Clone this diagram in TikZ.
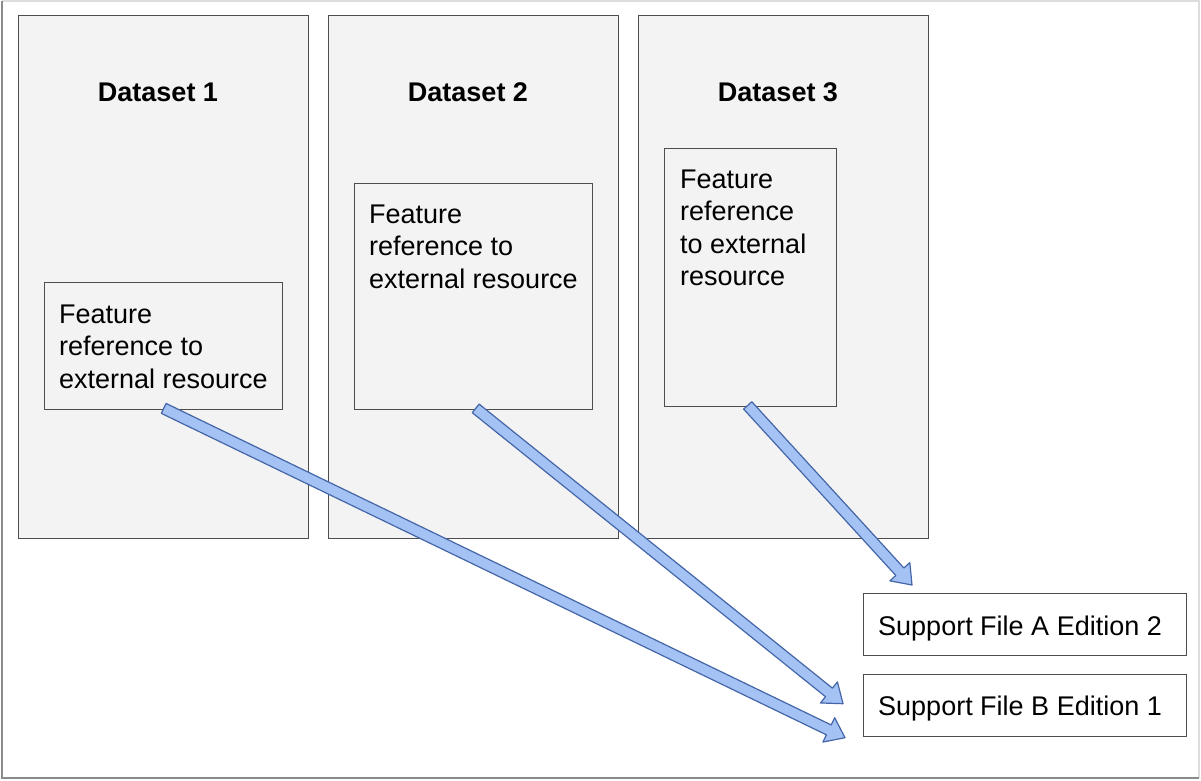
\documentclass[tikz,border=0pt]{standalone}
\usepackage{fontspec}
\setmainfont{Liberation Sans}
\usetikzlibrary{calc}
\definecolor{boxline}{HTML}{4D4D4D}
\definecolor{boxfill}{HTML}{F3F3F3}
\definecolor{arrfill}{HTML}{A4C2F4}
\definecolor{arrline}{HTML}{4466A8}
\definecolor{frameL}{HTML}{8A8A8A}
\definecolor{frameT}{HTML}{DDDDDD}
\tikzset{
  dsbox/.style={draw=boxline, line width=1.4pt, fill=boxfill, anchor=north west, inner sep=0pt},
  featbox/.style={draw=boxline, line width=1.4pt, fill=boxfill, anchor=north west, inner sep=0pt},
  supbox/.style={draw=boxline, line width=1.4pt, fill=white, anchor=north west, inner sep=0pt},
  ttl/.style={font=\fontsize{27}{32}\selectfont\bfseries, anchor=base, inner sep=0pt},
  txt/.style={font=\fontsize{27}{32.5}\selectfont, align=left, anchor=north west, inner sep=0pt},
  stxt/.style={font=\fontsize{27}{32}\selectfont, anchor=base west, inner sep=0pt},
  blk/.style={fill=arrfill, draw=arrline, line width=1.2pt, line join=round}
}
\newcommand\blockarrow[2]{%
  \coordinate (hb) at ($(#2)!18pt!(#1)$);
  \path[blk] ($(#1)!5.5pt!90:(#2)$) -- ($(hb)!5.5pt!90:(#2)$) -- ($(hb)!13.5pt!90:(#2)$)
    -- (#2) -- ($(hb)!13.5pt!-90:(#2)$) -- ($(hb)!5.5pt!-90:(#2)$)
    -- ($(#1)!5.5pt!-90:(#2)$) -- cycle;
}
\begin{document}
\begin{tikzpicture}[x=1pt,y=-1pt]
\useasboundingbox (0,0) rectangle (1201,780);
\fill[white] (0,0) rectangle (1201,780);
% outer frame
\draw[frameT, line width=1.5pt] (2,1) -- (1199,1) -- (1199,778);
\draw[frameL, line width=2pt] (2,1) -- (2,778) -- (1199,778);
% dataset boxes
\node[dsbox, minimum width=290pt, minimum height=523pt] (d1) at (18,15) {};
\node[dsbox, minimum width=290pt, minimum height=523pt] (d2) at (328,15) {};
\node[dsbox, minimum width=290pt, minimum height=523pt] (d3) at (638,15) {};
\node[ttl] (t1) at (158,101) {Dataset 1};
\node[ttl] (t2) at (468,101) {Dataset 2};
\node[ttl] (t3) at (778,101) {Dataset 3};
% feature boxes
\node[featbox, minimum width=238pt, minimum height=127pt] (f1) at (44,282) {};
\node[featbox, minimum width=238pt, minimum height=226pt] (f2) at (354,183) {};
\node[featbox, minimum width=172pt, minimum height=258pt] (f3) at (664,148) {};
\node[txt] (ft1) at (59,304.5) {Feature\\reference to\\external resource};
\node[txt] (ft2) at (369,204.5) {Feature\\reference to\\external resource};
\node[txt] (ft3) at (680,169.5) {Feature\\reference\\to external\\resource};
% support boxes
\node[supbox, minimum width=323pt, minimum height=62pt] (sa) at (863,593) {};
\node[supbox, minimum width=323pt, minimum height=62pt] (sb) at (863,674) {};
\node[stxt] (sat) at (878,635) {Support File A Edition 2};
\node[stxt] (sbt) at (878,715) {Support File B Edition 1};
% arrows
\coordinate (s1) at ($(f1.south)+(0,-2)$);
\coordinate (s2) at ($(f2.south)+(2,-2)$);
\coordinate (s3) at ($(f3.south)+(-3,-2)$);
\coordinate (e1) at ($(sb.west)+(-18,32)$);
\coordinate (e2) at ($(sb.west)+(-20,-2)$);
\coordinate (e3) at ($(sa.north west)+(49,-8)$);
\blockarrow{s1}{e1}
\blockarrow{s2}{e2}
\blockarrow{s3}{e3}
\end{tikzpicture}
\end{document}
